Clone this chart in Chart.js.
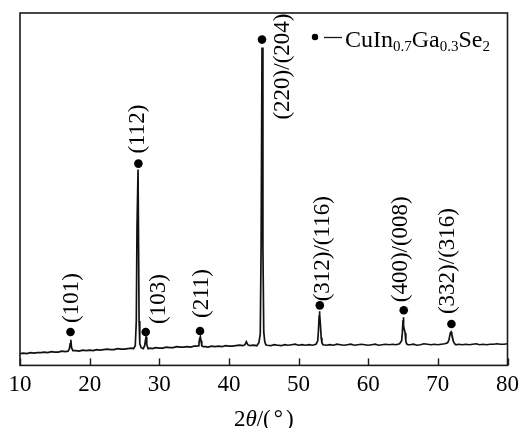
<!DOCTYPE html>
<html>
<head>
  <title>XRD CuIn0.7Ga0.3Se2</title>
  <style>
    body { margin: 0; padding: 0; background-color: #fff; }
    canvas { display: block; }
  </style>
</head>
<body>

<canvas id="xrdChart" width="525" height="428"></canvas>

<script src="https://cdn.jsdelivr.net/npm/chart.js"></script>
<script>
  // scan (2theta in degrees, intensity in arbitrary units)
  const twoTheta = [
    10, 10.5, 11, 11.5, 12, 12.5, 13, 13.5, 14, 14.5, 15, 15.5, 16, 16.5,
    16.9, 17.1, 17.2, 17.3, 17.4, 17.6,
    18, 18.5, 19, 19.5, 20, 20.5, 21, 21.5, 22, 22.5, 23, 23.5, 24, 24.5, 25, 25.5, 26, 26.3,
    26.55, 26.7, 26.8, 26.95, 27.1, 27.2, 27.4,
    27.7, 27.9, 28.0, 28.1, 28.2, 28.4,
    28.7, 29, 29.5, 30, 30.5, 31, 31.5, 32, 32.5, 33, 33.5, 34, 34.5, 35, 35.4,
    35.6, 35.7, 35.8, 35.9, 36.0, 36.1, 36.3,
    36.6, 37, 37.5, 38, 38.5, 39, 39.5, 40, 40.5, 41, 41.5, 42, 42.3, 42.5, 42.7, 43, 43.5, 44, 44.3,
    44.5, 44.62, 44.75, 44.88, 45.0, 45.15, 45.3,
    45.5, 46, 46.5, 47, 47.5, 48, 48.5, 49, 49.5, 50, 50.5, 51, 51.5, 52, 52.5,
    52.75, 52.85, 52.95, 53.0, 53.05, 53.15, 53.25, 53.35, 53.5,
    54, 54.5, 55, 55.5, 56, 56.5, 57, 57.5, 58, 58.5, 59, 59.5, 60, 60.5, 61, 61.5, 62, 62.5, 63, 63.5, 64, 64.5,
    64.8, 64.9, 65.0, 65.05, 65.1, 65.2, 65.3, 65.4, 65.5, 65.7,
    66, 66.5, 67, 67.5, 68, 68.5, 69, 69.5, 70, 70.5, 71, 71.4,
    71.6, 71.7, 71.8, 71.9, 72.0, 72.1, 72.2, 72.4, 72.6,
    73, 73.5, 74, 74.5, 75, 75.5, 76, 76.5, 77, 77.5, 78, 78.5, 79, 79.5, 80
  ];
  const intensity = [
    12, 12.5, 12, 13, 12.5, 13, 13, 13.5, 13, 14, 13.5, 13.5, 14.5, 14,
    14.5, 17, 22, 26, 18, 15,
    15, 14.5, 15.5, 15, 15.5, 15, 16, 15.5, 16, 16.5, 16, 16, 17, 16.5, 16.5, 17, 17.5, 17,
    20, 45, 140, 199, 45, 22, 18,
    17, 20, 25, 29, 21, 17,
    17.5, 17, 18, 17.5, 17.5, 18.5, 18, 18, 19, 18.5, 18.5, 19, 18.5, 19.5, 19.5,
    20, 23, 27, 29, 25, 20, 19,
    19, 18.5, 19.5, 19, 19.5, 19, 20, 19.5, 19.5, 20, 20.5, 20, 21, 24, 21, 20, 20.5, 20, 23,
    32, 120, 323, 120, 34, 24, 21,
    20.5, 20, 21, 20.5, 20, 21, 20.5, 21, 21.5, 20.5, 21, 20.5, 21, 20.5, 21.5,
    25, 35, 50, 55, 52, 40, 28, 23, 21,
    20.5, 21, 20.5, 21.5, 21, 20.5, 21, 21.5, 20.5, 21, 21.5, 21, 20.5, 21, 21.5, 20.5, 21, 21.5, 21, 21.5, 21, 22,
    25, 33, 46, 49, 40, 36, 33, 25, 22, 21,
    21, 21.5, 20.5, 21, 22, 21.5, 21, 21.5, 21, 21.5, 22, 23,
    26, 30, 33, 34, 31, 29, 25, 22, 21,
    21.5, 21, 21.5, 21, 21.5, 22, 21, 21.5, 21, 21.5, 21.5, 22, 21.5, 21.5, 22
  ];

  // marked reflections
  const peakTheta = [17.25, 27.0, 28.05, 35.85, 44.75, 53.05, 65.1, 71.95];
  const peakMark  = [34, 205, 34, 35, 331, 61, 56, 42];
  const peakLabels = ['(101)', '(112)', '(103)', '(211)', '(220)/(204)', '(312)/(116)', '(400)/(008)', '(332)/(316)'];

  const xTicks = [10, 20, 30, 40, 50, 60, 70, 80];

  const serif = '"Liberation Serif", "Times New Roman", serif';

  // label placement next to the dots (pixels)
  const labelShift = [
    { dx: 1, gap: 9 }, { dx: 0, gap: 10 }, { dx: 13, gap: 8 }, { dx: 2, gap: 13 },
    { dx: 21, gap: -80 }, { dx: 3, gap: 4 }, { dx: -3, gap: 8 }, { dx: -3, gap: 10 }
  ];

  const decorPlugin = {
    id: 'decor',
    afterDraw(chart) {
      const ctx = chart.ctx;
      const a = chart.chartArea;
      const xs = chart.scales.x, ys = chart.scales.y;
      ctx.save();

      // frame
      ctx.strokeStyle = '#1a1a1a';
      ctx.lineWidth = 1.6;
      ctx.strokeRect(a.left, a.top, a.right - a.left, a.bottom - a.top);

      // inward tick marks
      ctx.lineWidth = 1.4;
      xTicks.forEach(v => {
        const px = Math.round(xs.getPixelForValue(v)) + 0.5;
        ctx.beginPath();
        ctx.moveTo(px, a.bottom);
        ctx.lineTo(px, a.bottom - 7);
        ctx.stroke();
      });

      // rotated reflection labels
      ctx.fillStyle = '#000';
      ctx.font = '23px ' + serif;
      ctx.textAlign = 'left';
      ctx.textBaseline = 'middle';
      peakLabels.forEach((txt, i) => {
        const px = xs.getPixelForValue(peakTheta[i]) + labelShift[i].dx;
        const py = ys.getPixelForValue(peakMark[i]) - labelShift[i].gap;
        ctx.save();
        ctx.translate(px, py);
        ctx.rotate(-Math.PI / 2);
        ctx.fillText(txt, 0, 0);
        ctx.restore();
      });

      // legend: dot, dash, formula with subscripts
      ctx.beginPath();
      ctx.arc(315, 37, 3.2, 0, Math.PI * 2);
      ctx.fill();
      ctx.lineWidth = 1.3;
      ctx.beginPath();
      ctx.moveTo(324, 37.5);
      ctx.lineTo(342, 37.5);
      ctx.stroke();
      const parts = [['CuIn', false], ['0.7', true], ['Ga', false], ['0.3', true], ['Se', false], ['2', true]];
      let x = 345;
      ctx.textBaseline = 'alphabetic';
      parts.forEach(([t, sub]) => {
        ctx.font = (sub ? '15px ' : '24px ') + serif;
        ctx.fillText(t, x, sub ? 51 : 47);
        x += ctx.measureText(t).width;
      });

      // axis title 2θ/(°)
      const tparts = [['2', ''], ['\u03b8', 'italic '], ['/(', ''], ['\u00b0', ''], [')', '']];
      let total = 0;
      tparts.forEach(([t, st]) => {
        ctx.font = st + '23px ' + serif;
        total += ctx.measureText(t).width + (t === '\u00b0' ? 6 : 0);
      });
      let tx = (a.left + a.right) / 2 - total / 2;
      tparts.forEach(([t, st]) => {
        ctx.font = st + '23px ' + serif;
        if (t === '\u00b0') tx += 3;
        ctx.fillText(t, tx, 426);
        tx += ctx.measureText(t).width;
        if (t === '\u00b0') tx += 3;
      });

      ctx.restore();
    }
  };

  const ctx = document.getElementById('xrdChart').getContext('2d');
  new Chart(ctx, {
    type: 'line',
    data: {
      datasets: [
        {
          label: 'scan',
          data: twoTheta.map((t, i) => ({ x: t, y: intensity[i] })),
          borderColor: '#111',
          borderWidth: 1.7,
          pointRadius: 0,
          tension: 0,
          fill: false
        },
        {
          label: 'peaks',
          type: 'scatter',
          data: peakTheta.map((t, i) => ({ x: t, y: peakMark[i] })),
          pointRadius: 4.3,
          pointBackgroundColor: '#000',
          pointBorderWidth: 0
        }
      ]
    },
    options: {
      responsive: false,
      animation: false,
      devicePixelRatio: 1,
      layout: { padding: { left: 20, right: 16, top: 13, bottom: 23 } },
      plugins: {
        legend: { display: false },
        tooltip: { enabled: false }
      },
      scales: {
        x: {
          type: 'linear',
          min: 10,
          max: 80,
          afterBuildTicks: s => { s.ticks = xTicks.map(v => ({ value: v })); },
          grid: { drawOnChartArea: false, drawTicks: false, display: false },
          border: { display: false },
          ticks: {
            padding: 6,
            color: '#000',
            maxRotation: 0,
            font: { family: serif, size: 23 }
          }
        },
        y: {
          display: false,
          min: 0,
          max: 358
        }
      }
    },
    plugins: [decorPlugin]
  });
</script>

</body>
</html>
